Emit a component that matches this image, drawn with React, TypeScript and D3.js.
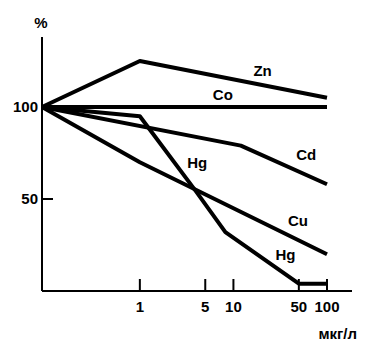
import { useEffect, useRef } from 'react';
import * as d3 from 'd3';

interface Pt {
    x: number;
    y: number;
}

// concentration, мкг/л (log scale) vs %
const zn: Pt[] = [{ x: 0.09, y: 100 }, { x: 1, y: 125 }, { x: 100, y: 105 }];
const co: Pt[] = [{ x: 0.09, y: 100 }, { x: 100, y: 100 }];
const cd: Pt[] = [{ x: 0.09, y: 100 }, { x: 12, y: 79 }, { x: 100, y: 58 }];
const hg: Pt[] = [{ x: 0.09, y: 100 }, { x: 1, y: 95 }, { x: 4, y: 54 }, { x: 8.2, y: 32 }, { x: 50, y: 4 }, { x: 100, y: 4 }];
const cu: Pt[] = [{ x: 0.09, y: 100 }, { x: 1, y: 70 }, { x: 100, y: 20 }];

const xTicks = [1, 5, 10, 50, 100];
const yTicks = [50, 100];

const labels = [
    { text: "Zn", x: 20.5, y: 120 },
    { text: "Co", x: 7.7, y: 107 },
    { text: "Cd", x: 60, y: 74 },
    { text: "Hg", x: 4.1, y: 70 },
    { text: "Cu", x: 49, y: 38 },
    { text: "Hg", x: 36, y: 20 },
];

export default function App() {
    const svgRef = useRef<SVGSVGElement>(null);
    const width = 374;
    const height = 354;

    useEffect(() => {
        const svg = d3.select(svgRef.current);
        svg.selectAll("*").remove();

        const font = "'Liberation Sans', Arial, sans-serif";

        const x = d3.scaleLog().domain([0.09, 100]).range([42, 327]);
        const y = d3.scaleLinear().domain([0, 100]).range([291, 107]);

        const g = svg.append("g");

        // Оси
        g.append("line")
            .attr("x1", x(0.09)).attr("x2", x(100) + 25)
            .attr("y1", y(0)).attr("y2", y(0))
            .attr("stroke", "#000").attr("stroke-width", 2);
        g.append("line")
            .attr("x1", x(0.09)).attr("x2", x(0.09))
            .attr("y1", y(0)).attr("y2", y(138))
            .attr("stroke", "#000").attr("stroke-width", 2);

        // X ticks (inward)
        g.selectAll(".xt")
            .data(xTicks)
            .enter().append("line")
            .attr("x1", d => x(d)).attr("x2", d => x(d))
            .attr("y1", y(0)).attr("y2", y(0) - 12)
            .attr("stroke", "#000").attr("stroke-width", 2);
        g.selectAll(".xl")
            .data(xTicks)
            .enter().append("text")
            .attr("x", d => x(d))
            .attr("y", y(0) + 21)
            .attr("text-anchor", "middle")
            .style("font-family", font)
            .style("font-weight", "bold")
            .style("font-size", "15px")
            .text(d => String(d));

        // Y ticks
        g.selectAll(".yt")
            .data(yTicks.filter(d => d !== 100))
            .enter().append("line")
            .attr("x1", x(0.09)).attr("x2", x(0.09) + 11)
            .attr("y1", d => y(d)).attr("y2", d => y(d))
            .attr("stroke", "#000").attr("stroke-width", 2);
        g.selectAll(".yl")
            .data(yTicks)
            .enter().append("text")
            .attr("x", x(0.09) - 4)
            .attr("y", d => y(d))
            .attr("dy", "0.36em")
            .attr("text-anchor", "end")
            .style("font-family", font)
            .style("font-weight", "bold")
            .style("font-size", "15px")
            .text(d => String(d));

        g.append("text")
            .attr("x", x(0.09) - 1)
            .attr("y", 28)
            .attr("text-anchor", "middle")
            .style("font-family", font)
            .style("font-weight", "bold")
            .style("font-size", "15px")
            .text("%");

        g.append("text")
            .attr("x", 357)
            .attr("y", 339)
            .attr("text-anchor", "end")
            .style("font-family", font)
            .style("font-weight", "bold")
            .style("font-size", "15px")
            .text("мкг/л");

        // Линии
        const line = d3.line<Pt>()
            .x(d => x(d.x))
            .y(d => y(d.y));

        [zn, co, cd, hg, cu].forEach(s => {
            g.append("path")
                .datum(s)
                .attr("fill", "none")
                .attr("stroke", "#000")
                .attr("stroke-width", 4)
                .attr("stroke-linejoin", "round")
                .attr("d", line);
        });

        // Подписи
        g.selectAll(".lab")
            .data(labels)
            .enter().append("text")
            .attr("x", d => x(d.x))
            .attr("y", d => y(d.y))
            .attr("dy", "0.36em")
            .attr("text-anchor", "middle")
            .style("font-family", font)
            .style("font-weight", "bold")
            .style("font-size", "15px")
            .text(d => d.text);
    }, []);

    return (
        <svg
            ref={svgRef}
            width={width}
            height={height}
            style={{ position: "absolute", left: 0, top: 0, background: "#fff" }}
        ></svg>
    );
}
